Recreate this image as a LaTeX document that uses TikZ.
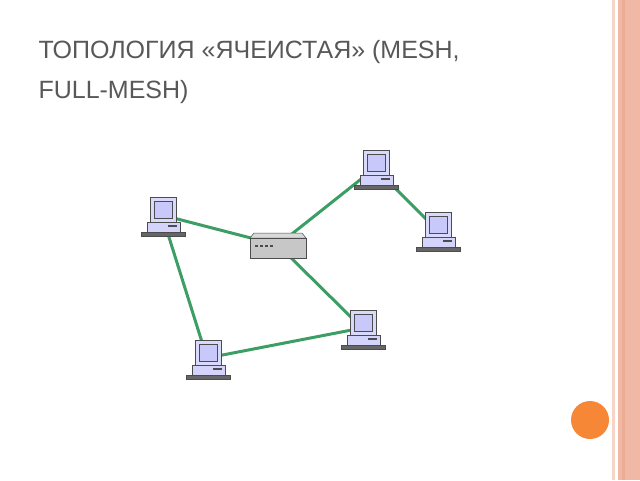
\documentclass[tikz,border=0pt]{standalone}
\usepackage{fontspec}
\setmainfont{Liberation Sans}
\usetikzlibrary{backgrounds}
\definecolor{linkgreen}{RGB}{60,158,100}
\definecolor{screenblue}{RGB}{200,200,250}
\definecolor{titlegray}{RGB}{88,88,88}
\definecolor{stripe}{RGB}{240,185,165}
\definecolor{dotorange}{RGB}{245,135,55}
\tikzset{
  link/.style={draw=linkgreen, line width=3pt},
  part/.style={draw=black!70, line width=0.5pt},
  pics/pc/.style={code={
    \node[inner sep=0, minimum width=40, minimum height=38] (-box) {};
    \filldraw[part, fill=screenblue!70] (-12,-18) rectangle (14,7);
    \filldraw[part, fill=screenblue] (-8,-14) rectangle (10,3);
    \filldraw[part, fill=screenblue!80] (-15,7) rectangle (18,17);
    \fill[black!70] (6,10) rectangle (15,12);
    \filldraw[part, fill=black!60] (-21,17) rectangle (23,21);
  }}
}
\begin{document}
\begin{tikzpicture}[x=1pt, y=-1pt]
  \useasboundingbox (0,0) rectangle (640,480);
  % side stripes
  \fill[stripe!60] (612,0) rectangle (615,480);
  \fill[stripe] (618,0) rectangle (640,480);
  \fill[stripe!120] (622,0) rectangle (625,480);
  \fill[dotorange] (590,420) circle (19);
  % title
  \node[anchor=base west, text=titlegray, font=\fontsize{25}{30}\selectfont]
    (title) at (35,58) {ТОПОЛОГИЯ «ЯЧЕИСТАЯ» (MESH,};
  \node[anchor=base west, text=titlegray, font=\fontsize{25}{30}\selectfont]
    (title2) at (35,98) {FULL-MESH)};
  % hub
  \node[inner sep=0, minimum width=56, minimum height=25] (hub) at (278,245) {};
  \filldraw[part, fill=black!15] (250,238) -- (254,233) -- (302,233) -- (306,238) -- cycle;
  \filldraw[part, fill=black!22] (250,238) rectangle (306,258);
  \foreach \i in {0,...,3}
    \fill[black!70] (255+\i*5,245) rectangle (258+\i*5,247);
  % computers
  \pic (pcleft) at (162,215) {pc};
  \pic (pctop) at (375,168) {pc};
  \pic (pcright) at (437,230) {pc};
  \pic (pcmid) at (362,328) {pc};
  \pic (pcbottom) at (207,358) {pc};
  % links
  \begin{scope}[on background layer]
    \draw[link] (pcleft-box.center) -- (hub.center);
    \draw[link] (hub.center) -- (pctop-box.center);
    \draw[link] (pctop-box.center) -- (pcright-box.center);
    \draw[link] (hub.center) -- (pcmid-box.center);
    \draw[link] (pcmid-box.center) -- (pcbottom-box.center);
    \draw[link] (pcbottom-box.center) -- (pcleft-box.center);
  \end{scope}
\end{tikzpicture}
\end{document}
